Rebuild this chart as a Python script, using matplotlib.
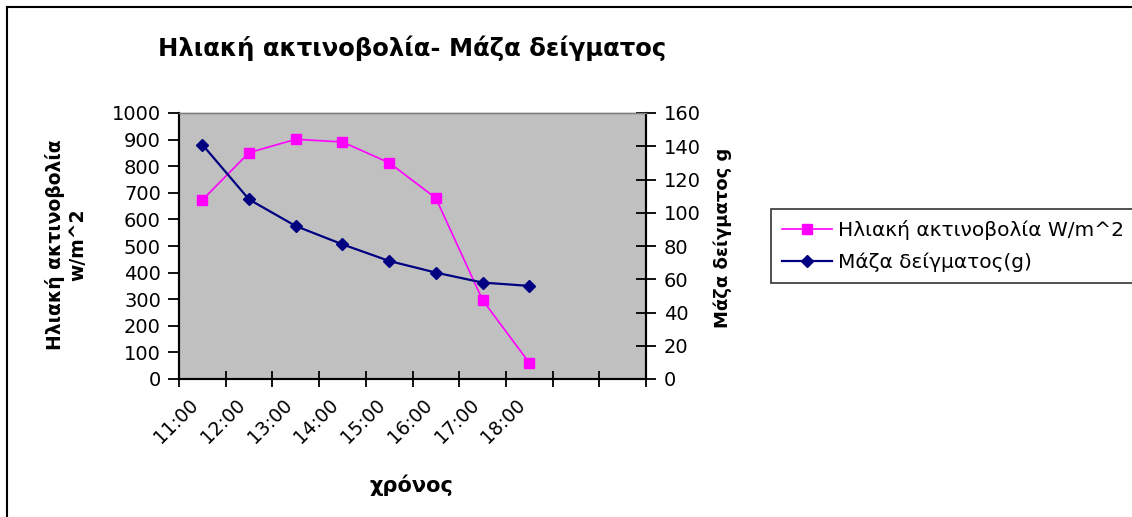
import matplotlib
matplotlib.use("Agg")
import matplotlib.pyplot as plt
import matplotlib.transforms as mtransforms
from matplotlib.lines import Line2D
import numpy as np

# -------------------------------
# data
# -------------------------------
times = ["11:00", "12:00", "13:00", "14:00", "15:00", "16:00", "17:00", "18:00", "", ""]
radiation = [673, 851, 901, 891, 813, 680, 297, 61]   # W/m^2 (left axis)
mass = [141, 108, 92, 81, 71, 64, 58, 56]             # g (right axis)

title = "Ηλιακή ακτινοβολία- Μάζα δείγματος"
ylabel_left = "Ηλιακή ακτινοβολία\nw/m^2"
ylabel_right = "Μάζα δείγματος g"
xlabel = "χρόνος"
legend_labels = ["Ηλιακή ακτινοβολία W/m^2", "Μάζα δείγματος(g)"]

plt.rcParams["font.family"] = ["DejaVu Sans"]

W, H = 1132, 517
fig = plt.figure(figsize=(W / 100, H / 100), dpi=100)

# chart frame (only top and left edges fall inside the picture)
fig.add_artist(Line2D([7 / W, 7 / W], [0, 1 - 7 / H], transform=fig.transFigure, color="black", lw=1.5))
fig.add_artist(Line2D([7 / W, 1], [1 - 7 / H, 1 - 7 / H], transform=fig.transFigure, color="black", lw=1.5))

ax = fig.add_axes([179 / W, 1 - 379 / H, (646 - 179) / W, (379 - 113) / H])
ax.set_facecolor("#C0C0C0")
ax2 = ax.twinx()

x = np.arange(len(radiation))
l1, = ax.plot(x, radiation, color="#FF00FF", lw=1.2, marker="s", ms=7,
              markerfacecolor="#FF00FF", markeredgecolor="#FF00FF")
l2, = ax2.plot(x, mass, color="#000080", lw=1.6, marker="D", ms=6.5,
               markerfacecolor="#000080", markeredgecolor="#000080")

ax.set_xlim(-0.5, len(times) - 0.5)
ax.set_ylim(0, 1000)
ax2.set_ylim(0, 160)
ax.set_yticks(np.arange(0, 1001, 100))
ax2.set_yticks(np.arange(0, 161, 20))

# tick marks between categories, labels at category centres
ax.set_xticks(np.arange(-0.5, len(times), 1.0))
ax.set_xticklabels([])
ax.set_xticks(np.arange(len(times)), minor=True)
ax.set_xticklabels(times, minor=True, rotation=45, ha="right", va="top", fontsize=13.5)
shift = mtransforms.ScaledTranslation(-7 / 100, 0, fig.dpi_scale_trans)
for lab in ax.get_xticklabels(minor=True):
    lab.set_transform(lab.get_transform() + shift)
ax.tick_params(axis="x", which="major", direction="inout", length=11, width=1.3)
ax.tick_params(axis="x", which="minor", length=0, pad=12)
ax.tick_params(axis="y", direction="out", length=8, width=1.3, labelsize=14, pad=5)
ax2.tick_params(axis="y", direction="inout", length=14, width=1.3, labelsize=14, pad=6)

for a in (ax, ax2):
    a.spines["top"].set_color("#808080")
    a.spines["top"].set_linewidth(1)
    for s in ("left", "right", "bottom"):
        a.spines[s].set_linewidth(1.5)

# titles
fig.text(412 / W, 1 - 48 / H, title, ha="center", va="center", fontsize=17.5, fontweight="bold")
fig.text(411 / W, 1 - 485 / H, xlabel, ha="center", va="center", fontsize=15, fontweight="bold")
fig.text(66 / W, 1 - 245 / H, ylabel_left, ha="center", va="center", rotation=90,
         fontsize=13.5, fontweight="bold", linespacing=1.2, multialignment="center")
fig.text(723 / W, 1 - 238 / H, ylabel_right, ha="center", va="center", rotation=90,
         fontsize=13, fontweight="bold")

leg = fig.legend([l1, l2], legend_labels, loc="upper left",
                 bbox_to_anchor=(771 / W, 1 - 209 / H), bbox_transform=fig.transFigure,
                 fontsize=14.5, frameon=True, fancybox=False, edgecolor="black",
                 handlelength=2.5, handletextpad=0.3, borderpad=0.55, labelspacing=0.6,
                 borderaxespad=0)
leg.get_frame().set_linewidth(1.2)

fig.savefig("out.png", dpi=100)
